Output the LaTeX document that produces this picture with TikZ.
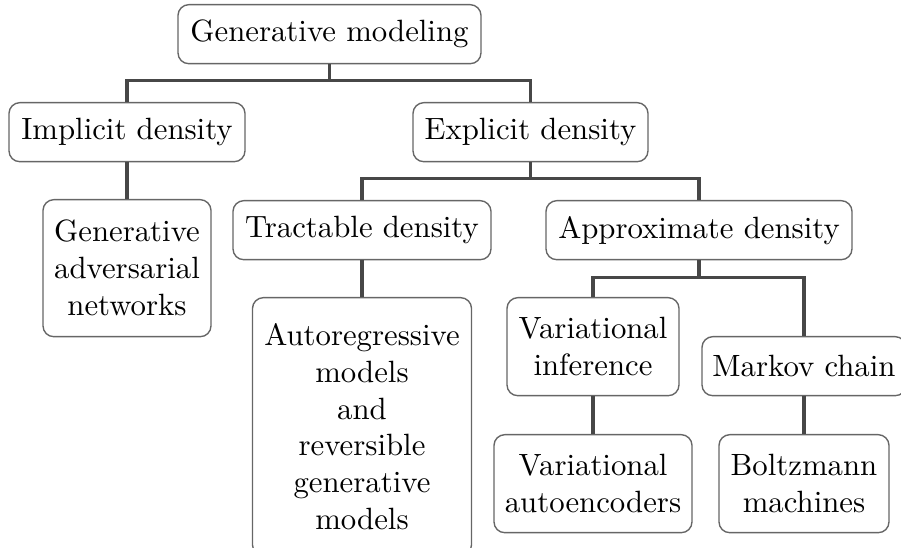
\documentclass[tikz,border=0pt]{standalone}
\begin{document}
\begin{tikzpicture}[
  x=0.325pt, y=-0.325pt,
  box/.style n args={2}{draw=black!60, line width=0.45pt, rounded corners=3.5pt,
    align=center, inner sep=0pt, anchor=north,
    minimum width=#1*0.325pt, minimum height=#2*0.325pt},
  link/.style={draw=black!72, line width=1pt}
]
\useasboundingbox (0,0) rectangle (901,548);

% level 0
\node[box={303}{59}] (gm) at (329.5,4) {Generative modeling};
% level 1
\node[box={236}{59}] (imp) at (127,102) {Implicit density};
\node[box={235}{59}] (exp) at (530.5,102) {Explicit density};
% level 2
\node[box={168}{137}] (gan) at (127,199) {Generative\\adversarial\\networks};
\node[box={258}{59}] (tra) at (362,200) {Tractable density};
\node[box={306}{59}] (app) at (699,200) {Approximate density};
% level 3
\node[box={219}{258}] (aut) at (362,297) {Autoregressive\\models\\and\\reversible\\generative\\models};
\node[box={172}{98}] (vi) at (593,297) {Variational\\inference};
\node[box={204}{59}] (mc) at (804,336) {Markov chain};
% level 4
\node[box={198}{98}] (va) at (593,434) {Variational\\autoencoders};
\node[box={170}{98}] (bm) at (804,434) {Boltzmann\\machines};

% branching connectors
\coordinate (gmj) at ([yshift=-16*0.325pt]gm.south);
\coordinate (expj) at ([yshift=-16*0.325pt]exp.south);
\coordinate (appj) at ([yshift=-17*0.325pt]app.south);
\draw[link] (gm.south) -- (gmj);
\draw[link] (imp.north) |- (gmj) -| (exp.north);
\draw[link] (exp.south) -- (expj);
\draw[link] (tra.north) |- (expj) -| (app.north);
\draw[link] (app.south) -- (appj);
\draw[link] (vi.north) |- (appj) -| (mc.north);

% single-child connectors
\draw[link] (imp.south) -- (gan.north);
\draw[link] (tra.south) -- (aut.north);
\draw[link] (vi.south) -- (va.north);
\draw[link] (mc.south) -- (bm.north);
\end{tikzpicture}
\end{document}
